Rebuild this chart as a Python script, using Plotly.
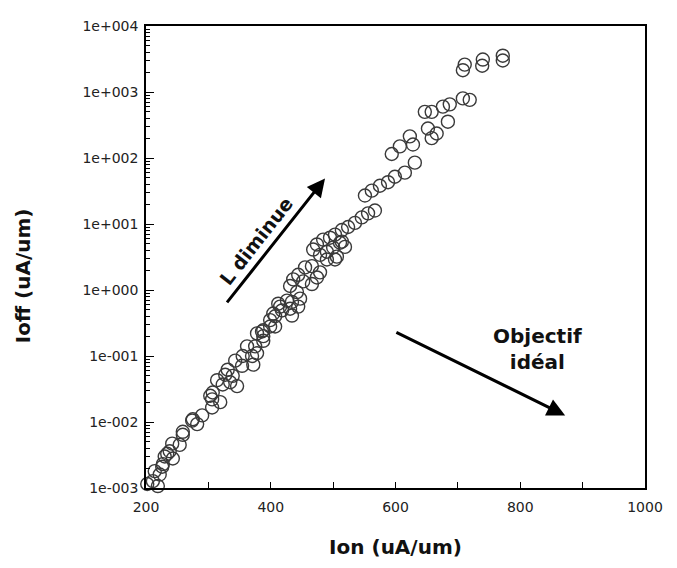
import plotly.graph_objects as go

# Ion (uA/um) values
ion = [206, 214, 202, 211, 219, 214, 222, 227, 226, 243, 230, 234, 238, 242, 254,
       259, 259, 274, 275, 282, 290, 306, 306, 319, 303, 307, 323, 314, 335, 346,
       339, 327, 331, 354, 343, 372, 355, 370, 378, 375, 362, 388, 378, 388, 388,
       386, 407, 399, 404, 418, 412, 426, 434, 447, 442, 431, 436, 452, 466, 474,
       479, 444, 455, 466, 490, 503, 506, 479, 490, 468, 500, 519, 474, 511, 484,
       495, 503, 514, 524, 535, 546, 556, 567, 514, 431, 415, 444, 434, 407, 399,
       551, 562, 575, 588, 599, 615, 631, 594, 607, 628, 623, 652, 658, 666, 684,
       647, 658, 676, 687, 708, 719, 708, 711, 739, 740, 772, 772]

# Ioff (uA/um) values
ioff = [0.00091, 0.00085, 0.00115, 0.00127, 0.00107, 0.0018, 0.0016, 0.0023, 0.0021, 0.0028,
        0.0030, 0.0033, 0.0036, 0.0047, 0.0045, 0.0071, 0.0064, 0.0105, 0.011, 0.0093,
        0.0126, 0.0166, 0.022, 0.020, 0.025, 0.028, 0.037, 0.043, 0.040, 0.035,
        0.050, 0.052, 0.062, 0.071, 0.085, 0.074, 0.10, 0.10, 0.11, 0.14,
        0.14, 0.17, 0.22, 0.245, 0.20, 0.235, 0.28, 0.35, 0.44, 0.49,
        0.62, 0.69, 0.66, 0.74, 0.93, 1.15, 1.45, 1.35, 1.23, 1.55,
        1.85, 1.7, 2.2, 2.3, 2.9, 2.9, 3.2, 3.4, 3.8, 4.1,
        4.4, 4.5, 4.9, 5.2, 5.8, 6.2, 6.9, 8.1, 9.0, 10.4,
        12.6, 14.5, 16, 5.4, 0.52, 0.56, 0.56, 0.41, 0.40, 0.28,
        27, 32, 38, 43, 52, 60, 85, 115, 150, 160,
        213, 280, 200, 235, 355, 500, 500, 600, 650, 800,
        760, 2140, 2600, 2500, 3100, 3000, 3550]

y_tickvals = [1e-3, 1e-2, 1e-1, 1e0, 1e1, 1e2, 1e3, 1e4]
y_ticktext = ["1e-003", "1e-002", "1e-001", "1e+000", "1e+001", "1e+002", "1e+003", "1e+004"]
x_tickvals = [200, 400, 600, 800, 1000]

fig = go.Figure()
fig.add_trace(go.Scatter(
    x=ion, y=ioff, mode="markers",
    marker=dict(symbol="circle-open", size=13, color="#3a3a3a",
                line=dict(width=1.4, color="#3a3a3a")),
    cliponaxis=False, showlegend=False,
))

font_ticks = dict(family="DejaVu Sans", size=14, color="#222222")
font_bold = "DejaVu Sans"

fig.update_layout(
    width=677, height=568,
    margin=dict(l=138, r=40, t=10, b=88),
    paper_bgcolor="white", plot_bgcolor="white",
    xaxis=dict(
        range=[200, 1000], tickvals=x_tickvals, ticks="inside", ticklen=6,
        tickcolor="black", tickwidth=1, ticklabelstandoff=5,
        minor=dict(dtick=100, tick0=0, ticks="inside", ticklen=6, tickcolor="black", showgrid=False),
        showline=True, linecolor="black", linewidth=1.5, mirror=True,
        showgrid=False, zeroline=False, tickfont=font_ticks,
        title=dict(text="<b>Ion (uA/um)</b>", font=dict(family=font_bold, size=20, color="#111111"),
                   standoff=26),
    ),
    yaxis=dict(
        type="log", range=[-3, 4], tickvals=y_tickvals, ticktext=y_ticktext,
        ticks="inside", ticklen=8, tickcolor="black", ticklabelstandoff=3,
        minor=dict(dtick="D1", ticks="inside", ticklen=4, tickcolor="black", showgrid=False),
        showline=True, linecolor="black", linewidth=1.5, mirror=True,
        showgrid=False, zeroline=False, tickfont=font_ticks,
    ),
    annotations=[
        dict(x=-0.245, y=0.46, xref="paper", yref="paper", text="<b>Ioff (uA/um)</b>",
             showarrow=False, textangle=-90, xanchor="center", yanchor="middle",
             font=dict(family=font_bold, size=20, color="#111111")),
        dict(x=487, y=1.69, ax=328, ay=-0.21, xref="x", yref="y", axref="x", ayref="y",
             text="", showarrow=True, arrowhead=2, arrowsize=1.2, arrowwidth=3, arrowcolor="black"),
        dict(x=376, y=0.75, xref="x", yref="y", text="<b>L diminue</b>", showarrow=False,
             textangle=-52, font=dict(family=font_bold, size=19, color="#111111")),
        dict(x=872, y=-1.90, ax=599, ay=-0.63, xref="x", yref="y", axref="x", ayref="y",
             text="", showarrow=True, arrowhead=2, arrowsize=1.2, arrowwidth=3, arrowcolor="black"),
        dict(x=827, y=-0.90, xref="x", yref="y", text="<b>Objectif<br>idéal</b>", showarrow=False,
             align="center", font=dict(family=font_bold, size=20, color="#111111")),
    ],
)

fig.write_html("out.html")
